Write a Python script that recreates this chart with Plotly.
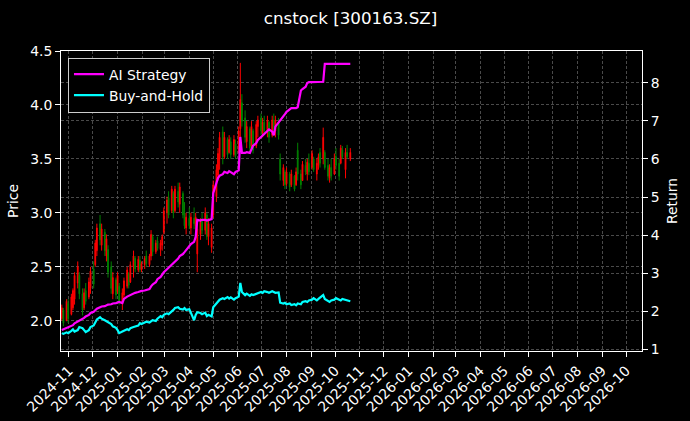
import pandas as pd
import plotly.graph_objects as go

TITLE = "cnstock [300163.SZ]"
START = "2024-10-23"

OPEN = [2.02, 2.10, 2.00, 2.16, 2.06, 2.12, 2.20, 2.35, 2.42, 2.25,
        2.12, 2.28, 2.22, 2.30, 2.48, 2.52, 2.65, 2.90, 2.70, 2.82,
        2.60, 2.66, 2.50, 2.25, 2.38, 2.27, 2.32, 2.16, 2.24, 2.32,
        2.44, 2.36, 2.50, 2.58, 2.47, 2.56, 2.47, 2.52, 2.60, 2.52,
        2.60, 2.78, 2.64, 2.74, 2.66, 2.70, 2.82, 3.00, 3.14, 3.02,
        3.18, 3.02, 3.20, 3.08, 3.18, 3.00, 2.86, 2.95, 2.86, 2.95,
        2.88, 2.62, 2.80, 2.92, 2.84, 2.98, 2.78, 2.68, 2.98, 3.15,
        3.35, 3.50, 3.75, 3.52, 3.68, 3.56, 3.66, 3.54, 3.64, 3.56,
        3.78, 4.02, 3.88, 3.66, 3.78, 3.62, 3.76, 3.62, 3.80, 3.88,
        3.74, 3.84, 3.76, 3.84, 3.72, 3.86, 3.76, 3.84, 3.50, 3.30,
        3.38, 3.27, 3.36, 3.26, 3.34, 3.26, 3.58, 3.36, 3.30, 3.44,
        3.36, 3.46, 3.42, 3.50, 3.36, 3.44, 3.56, 3.50, 3.56, 3.44,
        3.32, 3.42, 3.36, 3.52, 3.46, 3.46, 3.58, 3.40, 3.56, 3.50]
HIGH = [2.15, 2.12, 2.20, 2.20, 2.25, 2.30, 2.45, 2.55, 2.45, 2.30,
        2.30, 2.35, 2.40, 2.50, 2.55, 2.75, 2.90, 2.98, 2.90, 2.85,
        2.80, 2.70, 2.55, 2.45, 2.40, 2.45, 2.35, 2.30, 2.40, 2.50,
        2.45, 2.55, 2.65, 2.60, 2.60, 2.60, 2.55, 2.60, 2.65, 2.62,
        2.84, 2.80, 2.75, 2.78, 2.75, 2.80, 3.05, 3.15, 3.20, 3.25,
        3.20, 3.25, 3.28, 3.28, 3.20, 3.10, 3.00, 3.05, 3.00, 3.05,
        3.00, 2.90, 2.95, 3.00, 3.05, 3.00, 2.95, 2.90, 3.30, 3.45,
        3.60, 3.75, 3.80, 3.75, 3.70, 3.72, 3.70, 3.72, 3.68, 3.80,
        4.39, 4.10, 3.95, 3.85, 3.80, 3.85, 3.78, 3.85, 3.90, 3.92,
        3.88, 3.90, 3.90, 3.85, 3.90, 3.92, 3.90, 3.88, 3.55, 3.45,
        3.40, 3.42, 3.38, 3.40, 3.35, 3.42, 3.65, 3.40, 3.48, 3.50,
        3.50, 3.55, 3.58, 3.52, 3.50, 3.55, 3.60, 3.79, 3.58, 3.50,
        3.45, 3.50, 3.55, 3.60, 3.50, 3.63, 3.62, 3.60, 3.63, 3.60]
LOW = [2.00, 1.95, 2.00, 1.98, 2.05, 2.10, 2.15, 2.30, 2.20, 2.05,
       2.10, 2.15, 2.20, 2.25, 2.30, 2.50, 2.60, 2.70, 2.65, 2.60,
       2.55, 2.40, 2.25, 2.20, 2.20, 2.25, 2.15, 2.10, 2.20, 2.30,
       2.30, 2.35, 2.40, 2.45, 2.45, 2.45, 2.45, 2.48, 2.50, 2.50,
       2.56, 2.60, 2.62, 2.65, 2.60, 2.65, 2.80, 2.90, 2.95, 3.00,
       2.95, 3.00, 3.05, 3.00, 2.95, 2.85, 2.80, 2.85, 2.80, 2.85,
       2.80, 2.45, 2.75, 2.80, 2.80, 2.75, 2.70, 2.63, 2.95, 3.10,
       3.30, 3.40, 3.45, 3.50, 3.50, 3.55, 3.50, 3.52, 3.50, 3.55,
       3.70, 3.80, 3.65, 3.60, 3.55, 3.60, 3.55, 3.60, 3.70, 3.72,
       3.70, 3.72, 3.70, 3.65, 3.70, 3.72, 3.70, 3.68, 3.30, 3.25,
       3.22, 3.25, 3.20, 3.24, 3.20, 3.25, 3.30, 3.22, 3.30, 3.35,
       3.30, 3.35, 3.40, 3.38, 3.30, 3.40, 3.42, 3.45, 3.40, 3.30,
       3.28, 3.30, 3.35, 3.40, 3.30, 3.45, 3.50, 3.32, 3.50, 3.48]
CLOSE = [2.12, 1.98, 2.18, 2.02, 2.22, 2.28, 2.42, 2.50, 2.25, 2.10,
         2.26, 2.18, 2.36, 2.46, 2.34, 2.72, 2.86, 2.75, 2.85, 2.65,
         2.76, 2.45, 2.30, 2.40, 2.24, 2.42, 2.18, 2.26, 2.37, 2.47,
         2.33, 2.52, 2.60, 2.48, 2.57, 2.48, 2.53, 2.58, 2.53, 2.60,
         2.80, 2.64, 2.72, 2.67, 2.72, 2.78, 3.02, 3.12, 2.98, 3.22,
         3.00, 3.22, 3.10, 3.24, 2.98, 2.88, 2.96, 2.88, 2.96, 2.90,
         2.96, 2.85, 2.92, 2.84, 3.00, 2.78, 2.90, 2.86, 3.26, 3.40,
         3.55, 3.70, 3.52, 3.70, 3.54, 3.68, 3.54, 3.68, 3.53, 3.76,
         4.05, 3.85, 3.70, 3.80, 3.60, 3.80, 3.58, 3.82, 3.86, 3.76,
         3.84, 3.76, 3.86, 3.70, 3.86, 3.78, 3.86, 3.72, 3.36, 3.42,
         3.26, 3.38, 3.24, 3.36, 3.22, 3.38, 3.36, 3.26, 3.45, 3.38,
         3.47, 3.38, 3.55, 3.40, 3.46, 3.52, 3.46, 3.70, 3.42, 3.34,
         3.42, 3.34, 3.50, 3.44, 3.34, 3.60, 3.52, 3.56, 3.52, 3.56]

AI_STRATEGY = [1.50, 1.52, 1.55, 1.58, 1.60, 1.63, 1.68, 1.72, 1.76, 1.78,
               1.82, 1.86, 1.90, 1.95, 1.98, 2.02, 2.06, 2.10, 2.12, 2.13,
               2.16, 2.17, 2.18, 2.20, 2.21, 2.22, 2.24, 2.21, 2.32, 2.38,
               2.40, 2.44, 2.47, 2.48, 2.50, 2.52, 2.53, 2.54, 2.55, 2.58,
               2.65, 2.70, 2.76, 2.84, 2.90, 2.96, 3.02, 3.10, 3.14, 3.20,
               3.26, 3.30, 3.38, 3.45, 3.50, 3.55, 3.60, 3.68, 3.76, 3.82,
               3.95, 4.40, 4.38, 4.40, 4.40, 4.38, 4.40, 4.42, 5.10, 5.35,
               5.50, 5.56, 5.60, 5.66, 5.63, 5.68, 5.66, 5.60, 5.66, 5.70,
               6.58, 6.16, 6.16, 6.18, 6.16, 6.25, 6.35, 6.42, 6.50, 6.58,
               6.62, 6.68, 6.74, 6.78, 6.72, 6.62, 6.85, 6.95, 7.00, 7.10,
               7.18, 7.24, 7.30, 7.34, 7.34, 7.34, 7.36, 7.80, 7.84, 7.90,
               8.00, 8.02, 8.02, 8.02, 8.03, 8.03, 8.03, 8.03, 8.50, 8.50,
               8.50, 8.50, 8.50, 8.50, 8.50, 8.50, 8.50, 8.50, 8.50, 8.50]
BUY_AND_HOLD = [1.42, 1.40, 1.44, 1.42, 1.48, 1.52, 1.46, 1.50, 1.58, 1.55,
                1.50, 1.45, 1.50, 1.58, 1.62, 1.70, 1.78, 1.84, 1.80, 1.76,
                1.74, 1.70, 1.66, 1.60, 1.56, 1.50, 1.42, 1.46, 1.48, 1.52,
                1.50, 1.55, 1.58, 1.60, 1.62, 1.68, 1.66, 1.70, 1.72, 1.70,
                1.74, 1.76, 1.74, 1.80, 1.87, 1.84, 1.90, 1.94, 1.92, 1.98,
                2.03, 2.08, 2.10, 2.06, 2.04, 2.08, 2.03, 2.05, 1.95, 1.76,
                1.90, 1.97, 1.95, 1.92, 1.96, 1.87, 1.90, 1.86, 2.10, 2.20,
                2.26, 2.30, 2.34, 2.32, 2.37, 2.33, 2.36, 2.30, 2.34, 2.38,
                2.74, 2.50, 2.42, 2.46, 2.40, 2.44, 2.42, 2.46, 2.48, 2.50,
                2.48, 2.52, 2.50, 2.48, 2.52, 2.50, 2.48, 2.49, 2.22, 2.20,
                2.22, 2.18, 2.20, 2.16, 2.18, 2.15, 2.20, 2.18, 2.24, 2.26,
                2.24, 2.28, 2.30, 2.34, 2.28, 2.32, 2.36, 2.42, 2.32, 2.26,
                2.24, 2.28, 2.30, 2.34, 2.30, 2.28, 2.32, 2.30, 2.28, 2.26]

dates = pd.bdate_range(START, periods=len(CLOSE), freq="2B")

FONT = "DejaVu Sans, Verdana, sans-serif"
FS = 13.9
GRID = dict(showgrid=True, gridcolor="#4a4a4a", gridwidth=0.8, griddash="3px,2px")
AXIS = dict(ticks="outside", ticklen=5, tickcolor="white", tickfont=dict(size=FS),
            showline=True, linecolor="white", linewidth=1, zeroline=False,
            automargin=False, **GRID)

fig = go.Figure()
fig.add_trace(go.Candlestick(
    x=dates, open=OPEN, high=HIGH, low=LOW, close=CLOSE,
    increasing=dict(line=dict(color="#ff0000", width=1), fillcolor="#ff0000"),
    decreasing=dict(line=dict(color="#008000", width=1), fillcolor="#008000"),
    showlegend=False, hoverinfo="skip"))
fig.add_scatter(x=dates, y=AI_STRATEGY, name="AI Strategy", mode="lines",
                line=dict(color="#ff00ff", width=2.2), yaxis="y2")
fig.add_scatter(x=dates, y=BUY_AND_HOLD, name="Buy-and-Hold", mode="lines",
                line=dict(color="#00ffff", width=2.2), yaxis="y2")

fig.update_layout(
    width=690, height=421,
    margin=dict(l=61, r=48, t=51, b=70, autoexpand=False),
    paper_bgcolor="black", plot_bgcolor="black",
    font=dict(family=FONT, size=FS, color="white"),
    title=dict(text=TITLE, x=0.508, xanchor="center", y=0.957, yanchor="middle",
               yref="container", font=dict(size=16.7, color="white")),
    legend=dict(x=0.012, y=0.978, xanchor="left", yanchor="top",
                bgcolor="black", bordercolor="#cccccc", borderwidth=1,
                font=dict(size=FS, color="white"), tracegroupgap=0),
    xaxis=dict(range=["2024-10-22", "2026-10-21"], type="date",
               tick0="2024-11-01", dtick="M1", tickformat="%Y-%m",
               tickangle=-45, mirror=True,
               rangeslider=dict(visible=False), **AXIS),
    yaxis=dict(title=dict(text="Price", standoff=8, font=dict(size=FS)),
               range=[1.72, 4.5], tick0=2.0, dtick=0.5, tickformat=".1f", **AXIS),
    yaxis2=dict(title=dict(text="Return", standoff=8, font=dict(size=FS)),
                range=[0.95, 8.84], overlaying="y", side="right",
                tick0=1, dtick=1, **AXIS),
)

# page body has a default 8px margin; drop it so the figure sits at the corner
fig.write_html("out.html", config={"displayModeBar": False},
               post_script="document.body.style.margin='0px';")
